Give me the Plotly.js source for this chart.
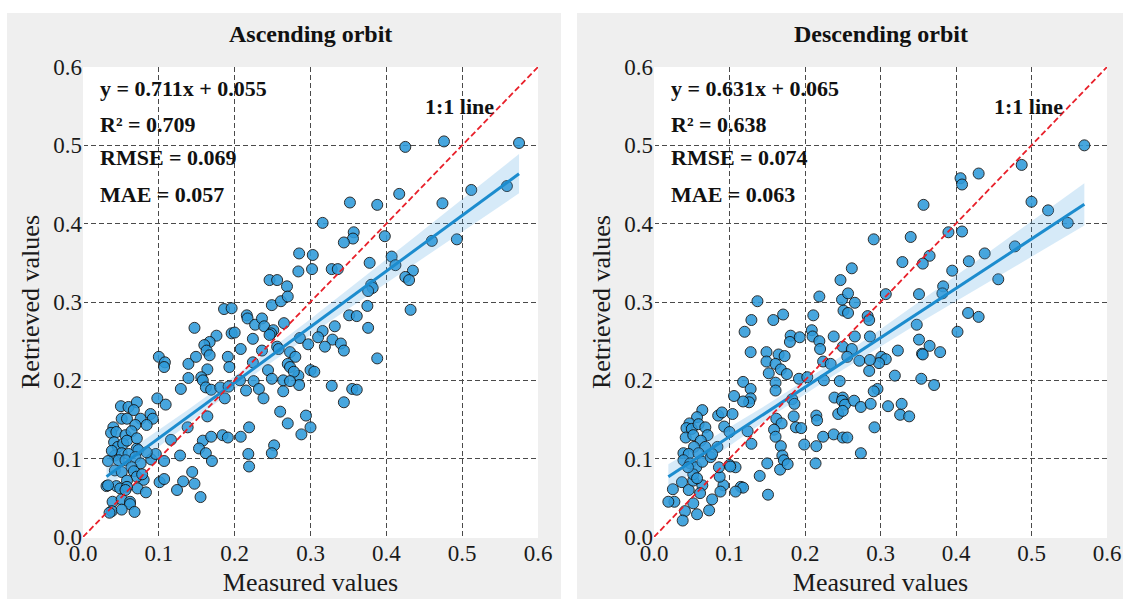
<!DOCTYPE html>
<html>
<head>
<meta charset="utf-8">
<script src="https://cdn.plot.ly/plotly-3.0.1.min.js"></script>
<style>
  html, body { margin: 0; padding: 0; background: #ffffff; }
  #chart { width: 1123px; height: 599px; }
</style>
</head>
<body>
<div id="chart"></div>
<script>
// ---- Ascending orbit: measured vs retrieved ----
const ascMeasured = [
  0.425,0.476,0.575,0.512,0.559,0.417,0.474,0.352,0.388,0.316,0.357,0.356,0.344,0.398,0.460,0.493,
  0.285,0.303,0.284,0.302,0.328,0.336,0.378,0.407,0.412,0.435,0.425,0.430,0.380,0.382,0.376,0.375,0.432,
  0.351,0.361,0.376,0.332,0.316,0.310,0.329,0.319,0.340,0.344,0.286,0.297,0.388,0.300,0.305,0.284,0.285,
  0.328,0.355,0.361,0.344,0.294,0.300,0.288,
  0.186,0.196,0.249,0.261,0.216,0.217,0.227,0.236,0.239,0.251,0.248,0.246,0.265,0.147,0.176,0.196,0.200,
  0.167,0.160,0.163,0.167,0.224,0.208,0.236,0.256,0.258,0.273,0.280,0.270,0.273,0.278,0.100,0.108,0.107,
  0.139,0.149,0.191,0.193,0.164,0.224,0.244,0.139,0.156,0.158,0.162,0.169,0.129,0.181,0.192,0.187,0.207,
  0.215,0.225,0.232,0.238,0.249,0.264,0.264,0.273,0.260,0.270,0.098,0.109,0.164,0.138,0.116,0.158,0.169,
  0.153,0.162,0.170,0.184,0.191,0.208,0.219,0.218,0.219,0.252,0.249,0.128,0.107,0.144,0.132,0.147,0.124,
  0.155,0.101,0.107,0.090,0.096,
  0.050,0.060,0.071,0.067,0.051,0.058,0.076,0.089,0.092,0.084,0.069,0.040,0.037,0.044,0.056,0.064,0.041,
  0.046,0.053,0.058,0.071,0.073,0.042,0.051,0.060,0.033,0.047,0.056,0.069,0.076,0.064,0.042,0.051,0.067,
  0.080,0.071,0.058,0.031,0.044,0.033,0.049,0.058,0.072,0.083,0.039,0.051,0.062,0.062,0.038,0.051,0.068,
  0.035,0.056,0.078,0.038,0.071,0.084,
  0.246,0.256,0.269,0.270
];
const ascRetrieved = [
  0.498,0.505,0.503,0.443,0.448,0.438,0.426,0.427,0.424,0.401,0.389,0.381,0.376,0.384,0.378,0.380,
  0.362,0.360,0.339,0.342,0.342,0.342,0.350,0.358,0.347,0.340,0.332,0.328,0.322,0.318,0.314,0.295,0.290,
  0.283,0.282,0.267,0.269,0.263,0.255,0.252,0.243,0.247,0.238,0.254,0.246,0.228,0.213,0.211,0.206,0.194,
  0.193,0.189,0.188,0.172,0.155,0.140,0.131,
  0.291,0.292,0.296,0.301,0.283,0.279,0.271,0.279,0.269,0.264,0.260,0.258,0.273,0.267,0.257,0.260,0.261,
  0.249,0.245,0.238,0.232,0.253,0.240,0.238,0.243,0.240,0.236,0.230,0.221,0.217,0.211,0.230,0.223,0.217,
  0.221,0.230,0.230,0.217,0.214,0.223,0.213,0.203,0.204,0.200,0.191,0.188,0.189,0.191,0.192,0.177,0.200,
  0.187,0.199,0.189,0.177,0.202,0.200,0.186,0.199,0.160,0.145,0.177,0.169,0.154,0.140,0.124,0.123,0.128,
  0.113,0.107,0.097,0.130,0.127,0.128,0.140,0.106,0.090,0.117,0.107,0.104,0.097,0.083,0.071,0.068,0.060,
  0.051,0.070,0.074,0.099,0.106,
  0.167,0.166,0.172,0.162,0.151,0.151,0.151,0.157,0.151,0.143,0.143,0.140,0.133,0.134,0.130,0.135,0.121,
  0.115,0.119,0.123,0.113,0.111,0.104,0.107,0.106,0.097,0.098,0.098,0.102,0.094,0.089,0.085,0.083,0.084,
  0.073,0.077,0.072,0.065,0.065,0.066,0.062,0.064,0.062,0.057,0.045,0.048,0.045,0.042,0.033,0.035,0.032,
  0.031,0.060,0.080,0.110,0.126,0.108,
  0.328,0.328,0.320,0.307
];

// ---- Descending orbit: measured vs retrieved ----
const descMeasured = [
  0.570,0.487,0.430,0.406,0.408,0.357,0.500,0.522,0.548,0.408,0.390,0.340,0.291,0.365,0.356,0.329,
  0.417,0.438,0.478,0.395,0.456,0.383,0.382,0.307,0.351,
  0.416,0.430,0.402,0.348,0.351,0.365,0.355,0.356,0.379,0.323,0.301,0.307,0.298,0.319,0.354,0.371,
  0.296,0.291,0.310,0.328,0.326,0.338,0.292,
  0.137,0.129,0.120,0.158,0.171,0.211,0.251,0.257,0.283,0.285,0.249,0.128,0.181,0.180,0.193,0.209,
  0.210,0.219,0.220,0.238,0.250,0.262,0.266,0.286,0.224,0.234,0.256,0.272,0.286,0.285,0.149,0.149,
  0.165,0.173,0.161,0.168,0.152,0.176,0.161,0.161,0.192,0.203,0.225,0.246,0.118,0.128,0.128,0.126,
  0.118,0.106,0.239,0.250,0.249,0.253,0.265,0.274,0.287,0.244,0.250,0.183,0.186,0.185,0.215,0.216,
  0.162,0.169,0.188,0.195,0.159,0.161,0.124,0.129,0.168,0.199,0.215,0.224,0.238,0.250,0.256,0.274,
  0.170,0.172,0.167,0.177,0.150,0.140,0.151,0.214,0.108,0.100,0.115,0.118,0.108,0.092,0.088,0.087,
  0.086,0.077,0.073,0.052,0.057,0.041,0.038,0.027,0.019,0.025,0.037,0.046,0.052,0.064,0.061,
  0.064,0.057,0.047,0.043,0.050,0.059,0.068,0.071,0.042,0.052,0.062,0.053,0.068,0.084,0.039,0.046,
  0.059,0.039,0.048,0.056,0.064,0.075,0.052,0.057,0.085,0.090,0.093,0.100,0.104,0.077,0.045,0.101,
  0.262,0.247,0.257,0.266,0.219
];
const descRetrieved = [
  0.500,0.475,0.464,0.458,0.450,0.424,0.428,0.417,0.401,0.390,0.389,0.383,0.380,0.359,0.349,0.351,
  0.352,0.362,0.371,0.340,0.329,0.320,0.311,0.310,0.310,
  0.286,0.281,0.262,0.271,0.252,0.244,0.234,0.233,0.236,0.238,0.230,0.227,0.222,0.206,0.202,0.194,
  0.189,0.186,0.167,0.170,0.156,0.154,0.140,
  0.301,0.277,0.262,0.277,0.284,0.283,0.289,0.286,0.282,0.277,0.303,0.236,0.257,0.249,0.255,0.264,
  0.256,0.250,0.240,0.256,0.243,0.240,0.256,0.256,0.224,0.221,0.230,0.225,0.226,0.212,0.236,0.224,
  0.233,0.231,0.221,0.214,0.209,0.208,0.197,0.187,0.202,0.204,0.200,0.199,0.198,0.189,0.177,0.172,
  0.173,0.180,0.178,0.178,0.174,0.169,0.174,0.166,0.170,0.157,0.161,0.176,0.170,0.154,0.155,0.149,
  0.151,0.145,0.140,0.139,0.137,0.128,0.135,0.119,0.116,0.118,0.116,0.128,0.131,0.127,0.127,0.107,
  0.104,0.098,0.086,0.093,0.094,0.078,0.054,0.094,0.089,0.092,0.064,0.063,0.058,0.066,0.058,0.077,
  0.089,0.048,0.034,0.043,0.029,0.033,0.021,0.045,0.045,0.061,0.070,0.060,0.072,0.066,0.056,
  0.162,0.153,0.145,0.139,0.138,0.144,0.140,0.130,0.127,0.130,0.123,0.115,0.115,0.115,0.107,0.106,
  0.107,0.098,0.094,0.089,0.096,0.102,0.080,0.075,0.155,0.159,0.141,0.134,0.157,0.106,0.089,0.090,
  0.343,0.328,0.311,0.299,0.307
];

// Fitted regression reported for each orbit
const ascFit  = { slope: 0.711, intercept: 0.055 };
const descFit = { slope: 0.631, intercept: 0.065 };

// Statistics printed in the upper-left corner of each panel
const ascStats  = ['y = 0.711x + 0.055', 'R\u00b2 = 0.709', 'RMSE = 0.069', 'MAE = 0.057'];
const descStats = ['y = 0.631x + 0.065', 'R\u00b2 = 0.638', 'RMSE = 0.074', 'MAE = 0.063'];
const panelTitles = ['Ascending orbit', 'Descending orbit'];

// Shared axis ticks
const tickValues = [0, 0.1, 0.2, 0.3, 0.4, 0.5, 0.6];
const tickLabels = ['0.0', '0.1', '0.2', '0.3', '0.4', '0.5', '0.6'];
const axisRange = [0, 0.6];

// ---------------------------------------------------------------
const W = 1123, H = 599;
const SERIF = "'Liberation Serif', 'Times New Roman', serif";
const POINT_FILL = 'rgb(46,154,218)';
const FIT_COLOR = 'rgb(28,140,206)';

// Regression line plus a 95% confidence band around the fitted mean
function fitTraces(xs, ys, fit, xa, ya) {
  const n = xs.length;
  const xbar = xs.reduce((a, b) => a + b, 0) / n;
  let sxx = 0, sse = 0;
  for (let i = 0; i < n; i++) {
    sxx += (xs[i] - xbar) ** 2;
    const r = ys[i] - (fit.slope * xs[i] + fit.intercept);
    sse += r * r;
  }
  const s = Math.sqrt(sse / (n - 2));
  const xmin = Math.min(...xs), xmax = Math.max(...xs);
  const steps = 60;
  const lx = [], ly = [], up = [], lo = [];
  for (let k = 0; k <= steps; k++) {
    const x = xmin + (xmax - xmin) * k / steps;
    const yhat = fit.slope * x + fit.intercept;
    const half = 1.97 * s * Math.sqrt(1 / n + (x - xbar) ** 2 / sxx);
    lx.push(x); ly.push(yhat); up.push(yhat + half); lo.push(yhat - half);
  }
  const band = {
    x: lx.concat(lx.slice().reverse()),
    y: up.concat(lo.slice().reverse()),
    xaxis: xa, yaxis: ya, type: 'scatter', mode: 'lines',
    fill: 'toself', fillcolor: 'rgba(70,160,225,0.22)',
    line: { width: 0 }, hoverinfo: 'skip'
  };
  const line = {
    x: lx, y: ly, xaxis: xa, yaxis: ya, type: 'scatter', mode: 'lines',
    line: { color: FIT_COLOR, width: 3 }, hoverinfo: 'skip'
  };
  return [band, line];
}

function pointsTrace(xs, ys, xa, ya) {
  return {
    x: xs, y: ys, xaxis: xa, yaxis: ya, type: 'scatter', mode: 'markers',
    marker: { size: 11, color: POINT_FILL, opacity: 0.88,
              line: { color: '#111111', width: 1 } }
  };
}

function oneToOne(xa, ya) {
  return {
    x: axisRange, y: axisRange, xaxis: xa, yaxis: ya, type: 'scatter', mode: 'lines',
    line: { color: '#e8202a', width: 1.8, dash: '6px,3px' }, hoverinfo: 'skip'
  };
}

const data = [
  pointsTrace(ascMeasured, ascRetrieved, 'x', 'y'),
  ...fitTraces(ascMeasured, ascRetrieved, ascFit, 'x', 'y'),
  oneToOne('x', 'y'),
  pointsTrace(descMeasured, descRetrieved, 'x2', 'y2'),
  ...fitTraces(descMeasured, descRetrieved, descFit, 'x2', 'y2'),
  oneToOne('x2', 'y2')
];

function axisStyle(extra) {
  return Object.assign({
    range: axisRange, tickmode: 'array', tickvals: tickValues, ticktext: tickLabels,
    showgrid: true, gridcolor: '#4a4a4a', gridwidth: 1, griddash: '5px,3px',
    zeroline: true, zerolinecolor: '#ffffff', zerolinewidth: 1,
    showline: false, ticks: '', automargin: false, fixedrange: true,
    tickfont: { family: SERIF, size: 23, color: '#1a1a1a' }
  }, extra);
}

const yDomain = [(H - 537) / H, (H - 67) / H];
const xTitle = { text: 'Measured values', font: { family: SERIF, size: 26, color: '#1a1a1a' }, standoff: 7 };
const yTitle = { text: 'Retrieved values', font: { family: SERIF, size: 26, color: '#1a1a1a' }, standoff: 6 };

const annotations = [];
function panelAnnotations(stats, title, xa, ya, domain) {
  annotations.push({
    text: '<b>' + title + '</b>', xref: 'paper', yref: 'paper',
    x: (domain[0] + domain[1]) / 2, y: (H - 34) / H, xanchor: 'center', yanchor: 'middle',
    showarrow: false, font: { family: SERIF, size: 24, color: '#111111' }
  });
  const rows = [0.573, 0.526, 0.485, 0.437];
  stats.forEach((s, i) => annotations.push({
    text: '<b>' + s + '</b>', xref: xa, yref: ya, x: 0.02, y: rows[i],
    xanchor: 'left', yanchor: 'middle', showarrow: false,
    font: { family: SERIF, size: 22, color: '#111111' }
  }));
  annotations.push({
    text: '<b>1:1 line</b>', xref: xa, yref: ya, x: 0.448, y: 0.549,
    xanchor: 'left', yanchor: 'middle', showarrow: false,
    font: { family: SERIF, size: 22, color: '#111111' }
  });
}
const dom1 = [83 / W, 538 / W];
const dom2 = [654 / W, 1107 / W];
panelAnnotations(ascStats, panelTitles[0], 'x', 'y', dom1);
panelAnnotations(descStats, panelTitles[1], 'x2', 'y2', dom2);

// Light grey panel backgrounds; white strips separate the two panels
const shapes = [
  { type: 'rect', xref: 'paper', yref: 'paper', x0: 0, x1: 1, y0: (H - 13) / H, y1: 1,
    fillcolor: '#ffffff', line: { width: 0 }, layer: 'below' },
  { type: 'rect', xref: 'paper', yref: 'paper', x0: 0, x1: 7 / W, y0: 0, y1: 1,
    fillcolor: '#ffffff', line: { width: 0 }, layer: 'below' },
  { type: 'rect', xref: 'paper', yref: 'paper', x0: 561 / W, x1: 577 / W, y0: 0, y1: 1,
    fillcolor: '#ffffff', line: { width: 0 }, layer: 'below' }
];

const layout = {
  width: W, height: H,
  margin: { l: 0, r: 0, t: 0, b: 0 },
  paper_bgcolor: '#efefef', plot_bgcolor: '#ffffff',
  showlegend: false,
  xaxis: axisStyle({ domain: dom1, anchor: 'y', title: xTitle }),
  yaxis: axisStyle({ domain: yDomain, anchor: 'x', title: yTitle }),
  xaxis2: axisStyle({ domain: dom2, anchor: 'y2', title: xTitle }),
  yaxis2: axisStyle({ domain: yDomain, anchor: 'x2', title: yTitle }),
  annotations: annotations,
  shapes: shapes
};

Plotly.newPlot('chart', data, layout, { displayModeBar: false, staticPlot: true });
</script>
</body>
</html>
